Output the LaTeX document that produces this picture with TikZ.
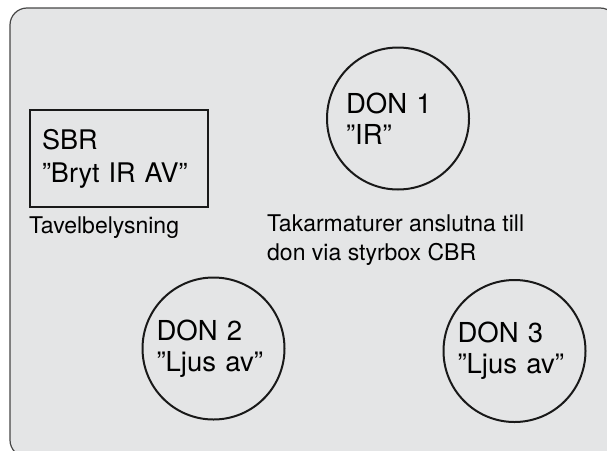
\documentclass[tikz,border=0pt]{standalone}
\usepackage{fontspec}
\setmainfont{TeX Gyre Heros}
\usetikzlibrary{positioning}
\definecolor{panelgray}{RGB}{228,229,230}
\definecolor{linegray}{RGB}{70,70,70}

\begin{document}
\begin{tikzpicture}[x=1pt,y=-1pt,
    don/.style={circle, draw=black!90, line width=2pt, minimum size=142pt, inner sep=0pt,
        align=left, font=\fontsize{27.5}{31}\selectfont},
    sbrbox/.style={rectangle, draw=black!90, line width=2pt, minimum width=178pt, minimum height=97pt,
        inner sep=0pt, text width=154pt, align=left, font=\fontsize{27}{33}\selectfont},
    note/.style={inner sep=0pt, align=left, font=\fontsize{23}{29}\selectfont}]
    \clip (0,0) rectangle (607,450);
    % panel
    \draw [draw=linegray, fill=panelgray, line width=1.2pt, rounded corners=17pt] (10,8) rectangle (617,457);
    % tavla
    \node [sbrbox] (sbr) at (119,158.5) {SBR\\”Bryt IR AV”};
    \node [note, below=9pt of sbr.south west, anchor=north west] (tavel) {Tavelbelysning};
    % don
    \node [don, text width=104pt] (don1) at (398,118.5) {DON 1\\”IR”};
    \node [don, text width=114pt] (don2) at (213.5,348.5) {DON 2\\”Ljus av”};
    \node [don, text width=114pt] (don3) at (514.5,351) {DON 3\\”Ljus av”};
    \node [note, anchor=north west] (tak) at (267,214.5) {Takarmaturer anslutna till\\don via styrbox CBR};
\end{tikzpicture}
\end{document}
